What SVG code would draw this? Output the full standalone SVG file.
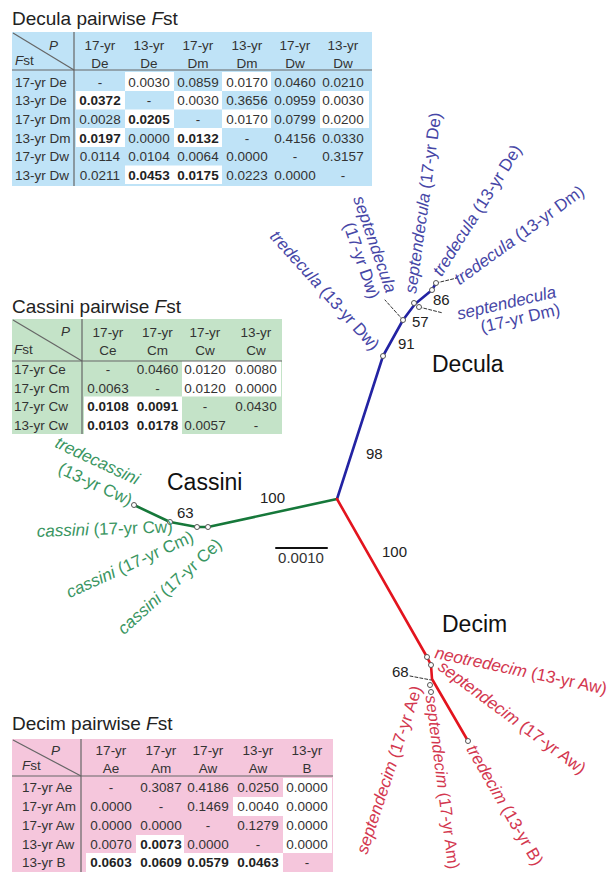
<svg xmlns="http://www.w3.org/2000/svg" width="608" height="876" viewBox="0 0 608 876">
<style>
text{font-family:"Liberation Sans",Arial,sans-serif;}
.ttl{font-size:19px;fill:#222;}
.tt{font-size:13.5px;fill:#333;}
.c{text-anchor:middle;}
.b{font-weight:bold;fill:#222;}
.i{font-style:italic;}
.hd{stroke:#666;stroke-width:1.2;fill:none;}
.w{fill:#fff;}
.lab{font-size:17px;}
.bl{fill:#4646a6;}
.gr{fill:#3a9662;}
.rd{fill:#d3374f;}
.num{font-size:15px;fill:#222;}
.grp{font-size:23px;fill:#111;}
.nd{fill:#fff;stroke:#555;stroke-width:1;}
.dash{stroke:#333;stroke-width:1;stroke-dasharray:3,2;fill:none;}
</style>

<!-- Decula table -->
<g id="decula-table">
<text class="ttl" x="12" y="25">Decula pairwise <tspan class="i">F</tspan>st</text>
<rect x="12" y="32" width="360" height="154" fill="#bfe3f7"/>
<g class="w">
<rect x="125" y="72" width="49" height="19"/><rect x="222" y="72" width="49" height="19"/>
<rect x="76" y="91" width="49" height="18.5"/><rect x="174" y="91" width="48" height="18.5"/><rect x="320" y="91" width="49" height="37"/>
<rect x="125" y="109.5" width="49" height="18.5"/><rect x="222" y="109.5" width="49" height="18.5"/>
<rect x="76" y="128" width="49" height="19"/><rect x="174" y="128" width="48" height="19"/>
<rect x="125" y="165.5" width="97" height="18.5"/>
</g>
<line class="hd" x1="12" y1="70" x2="372" y2="70"/>
<line class="hd" x1="74" y1="32" x2="74" y2="186"/>
<line class="hd" x1="13" y1="33" x2="74" y2="70"/>
<text class="tt i" x="58" y="50" text-anchor="end">P</text>
<text class="tt" x="15" y="65"><tspan class="i">F</tspan>st</text>
<g class="tt c">
<text x="100" y="50">17-yr</text><text x="149" y="50">13-yr</text><text x="198" y="50">17-yr</text><text x="247" y="50">13-yr</text><text x="295" y="50">17-yr</text><text x="343" y="50">13-yr</text>
<text x="100" y="67.5">De</text><text x="149" y="67.5">De</text><text x="198" y="67.5">Dm</text><text x="247" y="67.5">Dm</text><text x="295" y="67.5">Dw</text><text x="343" y="67.5">Dw</text>
</g>
<g class="tt">
<text x="15" y="86.5">17-yr De</text><text x="15" y="105">13-yr De</text><text x="15" y="124">17-yr Dm</text><text x="15" y="142.5">13-yr Dm</text><text x="15" y="161">17-yr Dw</text><text x="15" y="180">13-yr Dw</text>
</g>
<g class="tt c">
<text x="100" y="86.5">-</text><text x="149" y="86.5">0.0030</text><text x="198" y="86.5">0.0859</text><text x="247" y="86.5">0.0170</text><text x="295" y="86.5">0.0460</text><text x="343" y="86.5">0.0210</text>
<text x="100" y="105" class="b">0.0372</text><text x="149" y="105">-</text><text x="198" y="105">0.0030</text><text x="247" y="105">0.3656</text><text x="295" y="105">0.0959</text><text x="343" y="105">0.0030</text>
<text x="100" y="124">0.0028</text><text x="149" y="124" class="b">0.0205</text><text x="198" y="124">-</text><text x="247" y="124">0.0170</text><text x="295" y="124">0.0799</text><text x="343" y="124">0.0200</text>
<text x="100" y="142.5" class="b">0.0197</text><text x="149" y="142.5">0.0000</text><text x="198" y="142.5" class="b">0.0132</text><text x="247" y="142.5">-</text><text x="295" y="142.5">0.4156</text><text x="343" y="142.5">0.0330</text>
<text x="100" y="161">0.0114</text><text x="149" y="161">0.0104</text><text x="198" y="161">0.0064</text><text x="247" y="161">0.0000</text><text x="295" y="161">-</text><text x="343" y="161">0.3157</text>
<text x="100" y="180">0.0211</text><text x="149" y="180" class="b">0.0453</text><text x="198" y="180" class="b">0.0175</text><text x="247" y="180">0.0223</text><text x="295" y="180">0.0000</text><text x="343" y="180">-</text>
</g>
</g>

<!-- Cassini table -->
<g id="cassini-table">
<text class="ttl" x="12" y="313">Cassini pairwise <tspan class="i">F</tspan>st</text>
<rect x="12" y="319" width="270" height="115" fill="#c4e3c8"/>
<g class="w">
<rect x="182" y="361" width="99" height="35.5"/>
<rect x="84" y="396.5" width="98" height="37.5"/>
</g>
<line class="hd" x1="12" y1="361" x2="282" y2="361"/>
<line class="hd" x1="82" y1="319" x2="82" y2="434"/>
<line class="hd" x1="13" y1="320" x2="82" y2="361"/>
<text class="tt i" x="70" y="336" text-anchor="end">P</text>
<text class="tt" x="14" y="354"><tspan class="i">F</tspan>st</text>
<g class="tt c">
<text x="108" y="337">17-yr</text><text x="157.5" y="337">17-yr</text><text x="205" y="337">17-yr</text><text x="256" y="337">13-yr</text>
<text x="108" y="355">Ce</text><text x="157.5" y="355">Cm</text><text x="205" y="355">Cw</text><text x="256" y="355">Cw</text>
</g>
<g class="tt">
<text x="14" y="374">17-yr Ce</text><text x="14" y="392.5">17-yr Cm</text><text x="14" y="411">17-yr Cw</text><text x="14" y="429.5">13-yr Cw</text>
</g>
<g class="tt c">
<text x="108" y="374">-</text><text x="157.5" y="374">0.0460</text><text x="205" y="374">0.0120</text><text x="256" y="374">0.0080</text>
<text x="108" y="392.5">0.0063</text><text x="157.5" y="392.5">-</text><text x="205" y="392.5">0.0120</text><text x="256" y="392.5">0.0000</text>
<text x="108" y="411" class="b">0.0108</text><text x="157.5" y="411" class="b">0.0091</text><text x="205" y="411">-</text><text x="256" y="411">0.0430</text>
<text x="108" y="429.5" class="b">0.0103</text><text x="157.5" y="429.5" class="b">0.0178</text><text x="205" y="429.5">0.0057</text><text x="256" y="429.5">-</text>
</g>
</g>

<!-- Decim table -->
<g id="decim-table">
<text class="ttl" x="12" y="730">Decim pairwise <tspan class="i">F</tspan>st</text>
<rect x="12" y="739" width="321" height="133" fill="#f5c6dc"/>
<g class="w">
<rect x="283" y="778" width="49" height="75"/>
<rect x="233" y="797" width="50" height="19"/>
<rect x="136" y="835" width="48" height="18"/>
<rect x="86" y="853" width="197" height="19"/>
</g>
<line class="hd" x1="12" y1="776" x2="333" y2="776"/>
<line class="hd" x1="81" y1="739" x2="81" y2="872"/>
<line class="hd" x1="13" y1="740" x2="81" y2="776"/>
<text class="tt i" x="60" y="755" text-anchor="end">P</text>
<text class="tt" x="22" y="770"><tspan class="i">F</tspan>st</text>
<g class="tt c">
<text x="111" y="755">17-yr</text><text x="161" y="755">17-yr</text><text x="208" y="755">17-yr</text><text x="258" y="755">13-yr</text><text x="307" y="755">13-yr</text>
<text x="111" y="773">Ae</text><text x="161" y="773">Am</text><text x="208" y="773">Aw</text><text x="258" y="773">Aw</text><text x="307" y="773">B</text>
</g>
<g class="tt">
<text x="22" y="792">17-yr Ae</text><text x="22" y="811">17-yr Am</text><text x="22" y="830">17-yr Aw</text><text x="22" y="849">13-yr Aw</text><text x="22" y="867">13-yr B</text>
</g>
<g class="tt c">
<text x="111" y="792">-</text><text x="161" y="792">0.3087</text><text x="208" y="792">0.4186</text><text x="258" y="792">0.0250</text><text x="307" y="792">0.0000</text>
<text x="111" y="811">0.0000</text><text x="161" y="811">-</text><text x="208" y="811">0.1469</text><text x="258" y="811">0.0040</text><text x="307" y="811">0.0000</text>
<text x="111" y="830">0.0000</text><text x="161" y="830">0.0000</text><text x="208" y="830">-</text><text x="258" y="830">0.1279</text><text x="307" y="830">0.0000</text>
<text x="111" y="849">0.0070</text><text x="161" y="849" class="b">0.0073</text><text x="208" y="849">0.0000</text><text x="258" y="849">-</text><text x="307" y="849">0.0000</text>
<text x="111" y="867" class="b">0.0603</text><text x="161" y="867" class="b">0.0609</text><text x="208" y="867" class="b">0.0579</text><text x="258" y="867" class="b">0.0463</text><text x="307" y="867">-</text>
</g>
</g>

<!-- Tree connectors -->
<g id="connectors" fill="none" stroke-linejoin="round" stroke-linecap="round">
<polyline points="337,499 383,356 403,320 415,304 432,290 436,283" stroke="#2323a3" stroke-width="2.6"/>
<polyline points="337,499 208,527 197,527 170,522 134,505" stroke="#16783a" stroke-width="2.6"/>
<polyline points="337,499 427,657 431,665 432,679 468,741" stroke="#e3141e" stroke-width="2.6"/>
<line class="dash" x1="403" y1="320" x2="385" y2="300"/>
<line class="dash" x1="419" y1="307" x2="443" y2="313"/>
<line class="dash" x1="436" y1="283" x2="457" y2="278"/>
<line class="dash" x1="410" y1="676" x2="431" y2="680"/>
<line x1="276" y1="548" x2="327" y2="548" stroke="#111" stroke-width="2"/>
</g>

<!-- Nodes -->
<g id="nodes">
<circle class="nd" cx="383" cy="356" r="2.5"/>
<circle class="nd" cx="403" cy="320" r="2.5"/>
<circle class="nd" cx="414" cy="303" r="2.5"/>
<circle class="nd" cx="419" cy="307" r="2.5"/>
<circle class="nd" cx="432" cy="290" r="2.5"/>
<circle class="nd" cx="436" cy="283" r="2.5"/>
<circle class="nd" cx="134" cy="505" r="2.5"/>
<circle class="nd" cx="170" cy="522" r="2.5"/>
<circle class="nd" cx="197" cy="527" r="2.5"/>
<circle class="nd" cx="208" cy="527" r="2.5"/>
<circle class="nd" cx="427" cy="657" r="2.5"/>
<circle class="nd" cx="431" cy="665" r="2.5"/>
<circle class="nd" cx="430" cy="685" r="2.5"/>
<circle class="nd" cx="431" cy="692" r="2.5"/>
<circle class="nd" cx="468" cy="741" r="2.5"/>
</g>

<!-- Decula labels -->
<g id="decula-labels" class="lab bl">
<text transform="translate(269,237) rotate(48)"><tspan class="i">tredecula</tspan> (13-yr Dw)</text>
<g transform="translate(386,294) rotate(71)"><text text-anchor="end" class="i">septendecula</text><text y="18" text-anchor="end">(17-yr Dw)</text></g>
<text transform="translate(416,294) rotate(-82)"><tspan class="i">septendecula</tspan> (17-yr De)</text>
<text transform="translate(441.6,277.3) rotate(-57.7)"><tspan class="i">tredecula</tspan> (13-yr De)</text>
<text transform="translate(459.5,285.5) rotate(-36)"><tspan class="i">tredecula</tspan> (13-yr Dm)</text>
<g transform="translate(557,297) rotate(-13)"><text text-anchor="end" class="i">septendecula</text><text y="18" text-anchor="end">(17-yr Dm)</text></g>
</g>

<!-- Cassini labels -->
<g id="cassini-labels" class="lab gr">
<g transform="translate(95,466) rotate(25)"><text text-anchor="middle" class="i">tredecassini</text><text x="8" y="22" text-anchor="middle">(13-yr Cw)</text></g>
<text transform="translate(37,537) rotate(-2)"><tspan class="i">cassini</tspan> (17-yr Cw)</text>
<text transform="translate(195,541) rotate(-24.5)" text-anchor="end"><tspan class="i">cassini</tspan> (17-yr Cm)</text>
<text transform="translate(223,546) rotate(-42)" text-anchor="end"><tspan class="i">cassini</tspan> (17-yr Ce)</text>
</g>

<!-- Decim labels -->
<g id="decim-labels" class="lab rd">
<text transform="translate(434,658) rotate(12)"><tspan class="i">neotredecim</tspan> (13-yr Aw)</text>
<text transform="translate(437,669) rotate(36.4)"><tspan class="i">septendecim</tspan> (17-yr Aw)</text>
<text transform="translate(466,749) rotate(60)"><tspan class="i">tredecim</tspan> (13-yr B)</text>
<text transform="translate(425.5,696) rotate(82.5)" style="font-size:16.5px"><tspan class="i">septendecim</tspan> (17-yr Am)</text>
<text transform="translate(367,855) rotate(-71.7)"><tspan class="i">septendecim</tspan> (17-yr Ae)</text>
</g>

<!-- Support values and clade names -->
<g id="support" class="num">
<text x="366" y="459">98</text>
<text x="398" y="349">91</text>
<text x="412" y="327">57</text>
<text x="433" y="305">86</text>
<text x="260" y="503">100</text>
<text x="177" y="518">63</text>
<text x="382" y="557">100</text>
<text x="392" y="677">68</text>
<text x="301" y="563" text-anchor="middle" style="fill:#333">0.0010</text>
</g>
<g id="clades" class="grp">
<text x="432" y="372">Decula</text>
<text x="167" y="490">Cassini</text>
<text x="442" y="632">Decim</text>
</g>
</svg>
